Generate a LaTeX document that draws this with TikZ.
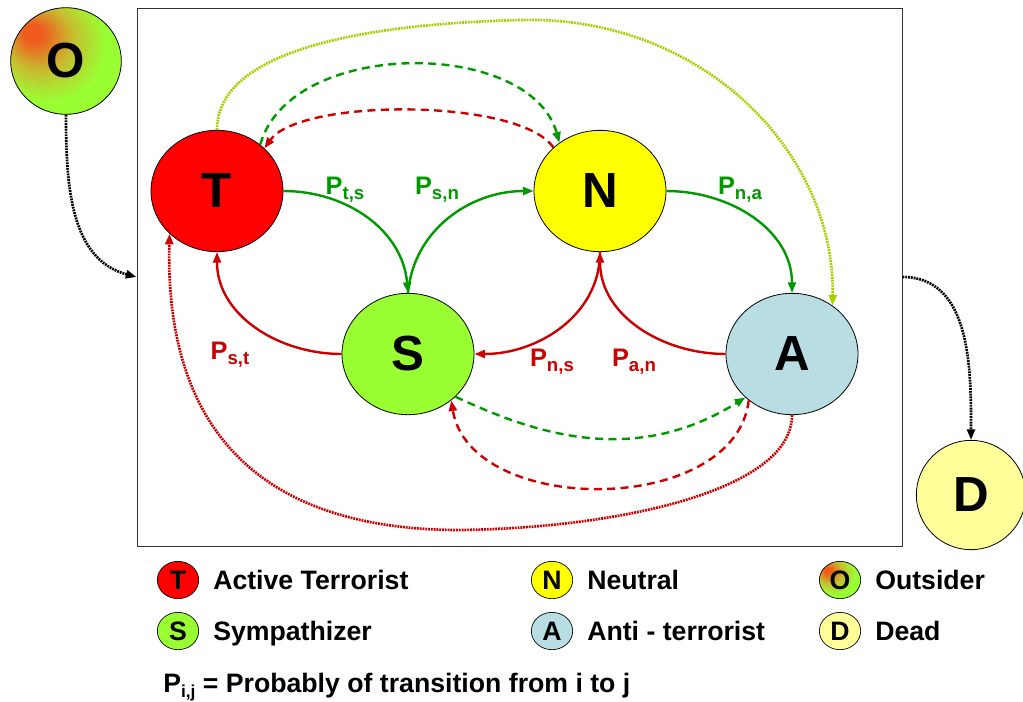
\documentclass[tikz,border=0pt]{standalone}
\usepackage{fontspec}
\setmainfont{Liberation Sans}
\usetikzlibrary{arrows.meta,shapes.geometric}
\definecolor{terr}{HTML}{FF0000}
\definecolor{symp}{HTML}{99FF33}
\definecolor{neut}{HTML}{FFFF00}
\definecolor{anti}{HTML}{B8DEE3}
\definecolor{dead}{HTML}{FFFF99}
\definecolor{outa}{HTML}{F05A1E}
\definecolor{outb}{HTML}{C8BC30}
\definecolor{fwd}{HTML}{009900}
\definecolor{bck}{HTML}{CC0000}
\definecolor{lim}{HTML}{A4D000}
\definecolor{frm}{HTML}{333333}
\pgfdeclareradialshading{outsider}{\pgfpoint{-16bp}{14bp}}{%
  color(0bp)=(outa); color(4bp)=(outa); color(15bp)=(outb); color(27bp)=(symp); color(60bp)=(symp)}
\tikzset{
  st/.style={ellipse, draw=black, line width=0.6pt, inner sep=0pt, minimum width=99pt, minimum height=91pt,
             font=\fontsize{37}{37}\selectfont\bfseries},
  key/.style={ellipse, draw=black, line width=0.5pt, inner sep=0pt, minimum width=31pt, minimum height=28pt,
              font=\fontsize{20}{20}\selectfont\bfseries},
  lbl/.style={font=\fontsize{20}{22}\selectfont\bfseries, anchor=base west, inner sep=0pt},
  pr/.style={font=\fontsize{19}{21}\selectfont\bfseries, inner sep=0pt},
  arr/.style={-{Triangle[length=8pt, width=6pt]}},
  fw/.style={draw=fwd, line width=1.8pt, arr},
  bw/.style={draw=bck, line width=1.8pt, arr},
  dsh/.style={dash pattern=on 6pt off 4pt},
  dts/.style={line width=2pt, dash pattern=on 1.4pt off 0.7pt, arr},
}
\newcommand{\prob}[2][14]{P\raisebox{-3.75pt}{\fontsize{#1}{#1}\selectfont #2}}

\begin{document}
\begin{tikzpicture}[x=0.75pt, y=-0.75pt]
\useasboundingbox (0,0) rectangle (1023,701);

% ---------------- frame and states ----------------
\node[draw=frm, line width=0.75pt, minimum width=573.75pt, minimum height=403.5pt, inner sep=0pt] (box) at (519.5,277) {};
\node[st, fill=terr] (T) at (217,191) {T};
\node[st, fill=neut] (N) at (600,191) {N};
\node[st, fill=symp] (S) at (408,354) {S};
\node[st, fill=anti] (A) at (792,354) {A};
\node[st, shade, shading=outsider, minimum width=83pt, minimum height=80pt] (O) at (66,61) {O};
\node[st, fill=dead, minimum width=82pt, minimum height=82pt] (D) at (971,495) {D};

% ---------------- solid transitions ----------------
\draw[fw] (T.east) to[out=0, in=95] (S.north);
\draw[fw] (S.north) to[out=85, in=180] (N.west);
\draw[fw] (N.east) to[out=0, in=90] (A.north);
\draw[bw] (S.west) to[out=180, in=-90] (T.south);
\draw[bw] (N.south) to[out=-90, in=0] (S.east);
\draw[bw] (A.west) to[out=180, in=-90] (N.south);

% ---------------- dashed transitions ----------------
\draw[fw, dsh] (T.47) .. controls (290,38) and (530,38) .. (N.130);
\draw[bw, dsh] (N.137) .. controls (520,98) and (300,98) .. (T.42);
\draw[fw, dsh] (S.-42) .. controls (535,434) and (634,467) .. (A.-137);
\draw[bw, dsh] (A.-133) .. controls (735,517) and (470,517) .. (S.-47);

% ---------------- dotted transitions ----------------
\draw[dts, draw=lim] (T.north) .. controls (217,60) and (330,25) .. (520,20)
  .. controls (700,15) and (835,150) .. (A.50);
\draw[dts, draw=bck] (A.south) .. controls (792,490) and (620,528) .. (460,530)
  .. controls (250,530) and (165,420) .. (T.222);
\draw[dts, draw=black] (O.south) to[out=-90, in=165] (box.west);
\draw[dts, draw=black] (box.east) to[out=0, in=90] (D.north);

% ---------------- probabilities ----------------
\node[pr, text=fwd] (pts) at (345,190) {\prob{t,s}};
\node[pr, text=fwd] (psn) at (437,190) {\prob{s,n}};
\node[pr, text=fwd] (pna) at (740,190) {\prob{n,a}};
\node[pr, text=bck] (pst) at (230,355) {\prob{s,t}};
\node[pr, text=bck] (pns) at (552,362) {\prob{n,s}};
\node[pr, text=bck] (pan) at (634,362) {\prob{a,n}};

% ---------------- legend ----------------
\foreach \nm/\px/\py/\clr/\ltr/\txt in {kT/178/580/terr/T/Active Terrorist, kS/178/631/symp/S/Sympathizer,
    kN/552/580/neut/N/Neutral, kA/552/631/anti/A/Anti - terrorist, kD/840/631/dead/D/Dead} {
  \node[key, fill=\clr] (\nm) at (\px,\py) {\ltr};
  \node[lbl] (\nm t) at (\px+35,\py+9) {\txt};
}
\node[key, shade, shading=outsider] (kO) at (840,580) {O};
\node[lbl] (kOt) at (875,589) {Outsider};
\node[lbl] (note) at (163,692) {\prob[13]{i,j} = Probably of transition from i to j};
\end{tikzpicture}
\end{document}
